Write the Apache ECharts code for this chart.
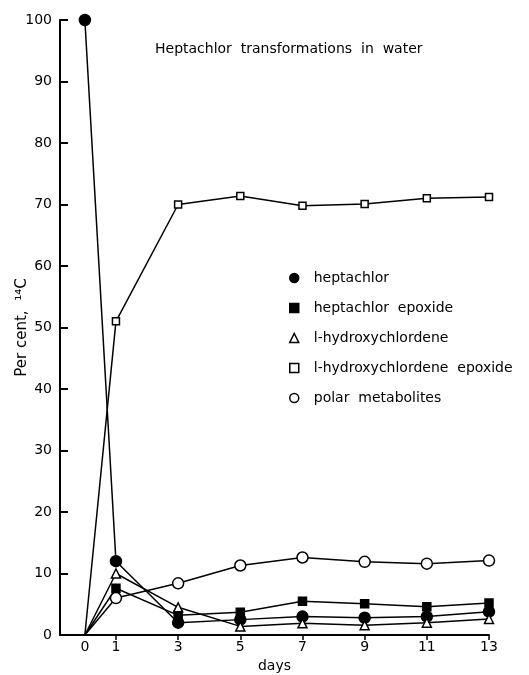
<!DOCTYPE html>
<html>
<head>
<meta charset="utf-8">
<script src="https://cdn.jsdelivr.net/npm/echarts@6/dist/echarts.min.js"></script>
<style>
  html, body { margin: 0; padding: 0; background: #fff; }
  #chart { width: 529px; height: 675px; }
</style>
</head>
<body>
<div id="chart"></div>
<script>
const days = [0, 1, 3, 5, 7, 9, 11, 13];
const heptachlor = [100, 12, 2, 2.5, 3, 2.8, 3, 3.8];
const heptachlorEpoxide = [0, 7.6, 3.2, 3.7, 5.5, 5.1, 4.6, 5.2];
const hydroxychlordene = [0, 10, 4.5, 1.4, 1.9, 1.6, 2, 2.6];
const hydroxychlordeneEpoxide = [0, 51, 70, 71.4, 69.8, 70.1, 71, 71.2];
const polarMetabolites = [0, 6, 8.4, 11.3, 12.6, 11.9, 11.6, 12.1];
const yTicks = [0, 10, 20, 30, 40, 50, 60, 70, 80, 90, 100];

const font = 'DejaVu Sans';
const chart = echarts.init(document.getElementById('chart'));

// the zero start points are drawn without a marker, lines just meet there
const toPairs = (vals) => days.map((d, i) => (
  i === 0 && vals[i] === 0 ? { value: [d, vals[i]], symbol: 'none' } : [d, vals[i]]
));

// marker styles: filled = black, open = white with black rim
const series = [
  { name: 'heptachlor', data: heptachlor, symbol: 'circle', size: 11, fill: '#000' },
  { name: 'heptachlor  epoxide', data: heptachlorEpoxide, symbol: 'rect', size: 8, fill: '#000' },
  { name: 'l-hydroxychlordene', data: hydroxychlordene, symbol: 'triangle', size: 9, fill: '#fff' },
  { name: 'l-hydroxychlordene  epoxide', data: hydroxychlordeneEpoxide, symbol: 'rect', size: 7, fill: '#fff' },
  { name: 'polar  metabolites', data: polarMetabolites, symbol: 'circle', size: 11, fill: '#fff' },
];

const option = {
  animation: false,
  backgroundColor: '#fff',
  textStyle: { fontFamily: font, color: '#000' },
  title: {
    text: 'Heptachlor  transformations  in  water',
    left: 150,
    top: 37,
    textStyle: { fontFamily: font, fontSize: 14, fontWeight: 'normal', color: '#000' },
  },
  legend: {
    orient: 'vertical',
    left: 284,
    top: 266,
    itemGap: 16,
    itemWidth: 9,
    itemHeight: 9,
    textStyle: { fontFamily: font, fontSize: 14, color: '#000', padding: [0, 0, 0, 10] },
    data: series.map((s) => ({
      name: s.name,
      icon: s.symbol,
      itemStyle: { color: s.fill, borderColor: '#000', borderWidth: 1.5 },
    })),
  },
  grid: { left: 60, right: 40, top: 20, bottom: 40, outerBoundsMode: 'none' },
  xAxis: {
    type: 'value',
    min: -0.8,
    max: 13,
    name: 'days',
    nameLocation: 'middle',
    nameGap: 24,
    nameTextStyle: { fontFamily: font, fontSize: 14, color: '#000' },
    axisLine: { onZero: false, lineStyle: { color: '#000', width: 2 } },
    axisTick: { show: true, customValues: days.slice(1), length: 5, lineStyle: { color: '#000', width: 1.5 } },
    axisLabel: { customValues: days, fontFamily: font, fontSize: 14, color: '#000', margin: 5 },
    splitLine: { show: false },
  },
  yAxis: {
    type: 'value',
    min: 0,
    max: 100,
    interval: 10,
    name: 'Per cent,  ¹⁴C',
    nameLocation: 'middle',
    nameRotate: 90,
    nameGap: 30,
    nameMoveOverlap: false,
    nameTextStyle: { fontFamily: font, fontSize: 15, color: '#000' },
    axisLine: { show: true, onZero: false, lineStyle: { color: '#000', width: 2 } },
    axisTick: { show: true, inside: true, length: 8, customValues: yTicks, lineStyle: { color: '#000', width: 2 } },
    axisLabel: { customValues: yTicks, fontFamily: font, fontSize: 14, color: '#000', margin: 8 },
    splitLine: { show: false },
  },
  series: series.map((s) => ({
    name: s.name,
    type: 'line',
    data: toPairs(s.data),
    symbol: s.symbol,
    symbolSize: s.size,
    showAllSymbol: true,
    lineStyle: { color: '#000', width: 1.5 },
    itemStyle: { color: s.fill, borderColor: '#000', borderWidth: 1.5 },
    z: s.fill === '#fff' ? 3 : 2,
  })),
};

chart.setOption(option);
</script>
</body>
</html>
